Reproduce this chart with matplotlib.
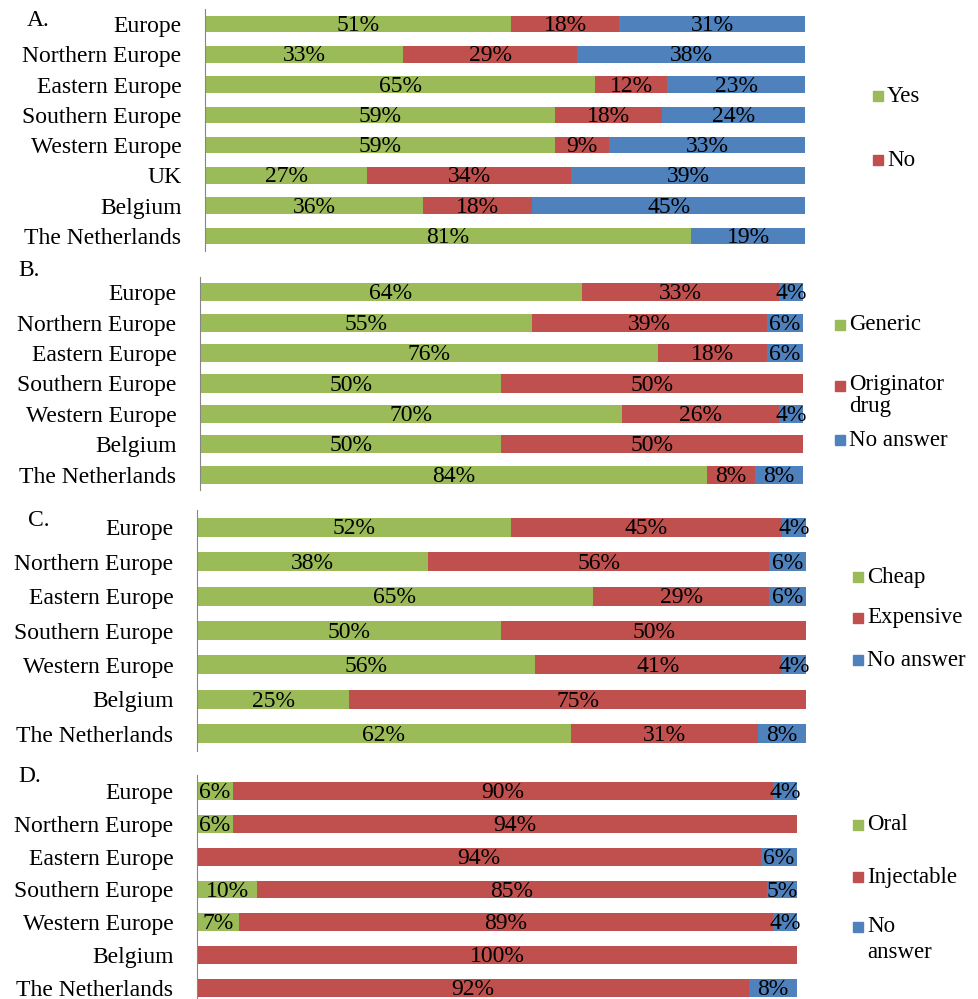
import matplotlib
matplotlib.use('Agg')
import matplotlib.pyplot as plt
import matplotlib.patches as mpatches
import numpy as np

plt.rcParams['font.family'] = ['Liberation Serif', 'DejaVu Serif']

#colour scheme (excel 2007 defaults)
green = '#9BBB59'
red = '#C0504D'
blue = '#4F81BD'

# panel A - data
cats_A = ['Europe', 'Northern Europe', 'Eastern Europe', 'Southern Europe',
          'Western Europe', 'UK', 'Belgium', 'The Netherlands']
yes_A = [51, 33, 65, 59, 59, 27, 36, 81]
no_A = [18, 29, 12, 18, 9, 34, 18, 0]
na_A = [31, 38, 23, 24, 33, 39, 45, 19]

cats = ['Europe', 'Northern Europe', 'Eastern Europe', 'Southern Europe',
        'Western Europe', 'Belgium', 'The Netherlands']

# panel B
generic_B = [64, 55, 76, 50, 70, 50, 84]
orig_B = [33, 39, 18, 50, 26, 50, 8]
na_B = [4, 6, 6, 0, 4, 0, 8]

# panel C
cheap_C = [52, 38, 65, 50, 56, 25, 62]
exp_C = [45, 56, 29, 50, 41, 75, 31]
na_C = [4, 6, 6, 0, 4, 0, 8]

# panel D
oral_D = [6, 6, 0, 10, 7, 0, 0]
inj_D = [90, 94, 94, 85, 89, 100, 92]
na_D = [4, 0, 6, 5, 4, 0, 8]

W, H = 979, 999
fig = plt.figure(figsize=(W/100, H/100), dpi=100)

def px_axes(left, top, width, bottom):
    return fig.add_axes([left/W, 1-bottom/H, width/W, (bottom-top)/H])

def draw_panel(ax, labels, series, height):
    y = np.arange(len(labels))
    # 100% stacked: widths are shares of the row total, labels keep the rounded values
    total = np.sum([np.array(v, dtype=float) for v, c in series], axis=0)
    left = np.zeros(len(labels))
    for vals, col in series:
        vals = np.array(vals, dtype=float)
        w = 100.0*vals/total
        ax.barh(y, w, left=left, color=col, height=height, clip_on=False,
                edgecolor='none')
        for yi, l, wi, v in zip(y, left, w, vals):
            if v > 0:
                ax.text(l + wi/2, yi + 0.05, '%d%%' % v, ha='center', va='center',
                        fontsize=17, clip_on=False)
        left = left + w
    ax.set_xlim(0, 100)
    ax.set_ylim(len(labels) - 0.5, -0.5)
    ax.set_yticks(y)
    ax.set_yticklabels(labels, fontsize=17)
    ax.tick_params(length=0, pad=17)
    ax.set_xticks([])
    for s in ['top', 'right', 'bottom']:
        ax.spines[s].set_visible(False)
    ax.spines['left'].set_color('#868686')
    ax.patch.set_alpha(0)

def legend_item(x, y, col, text, fs=16.5):
    fig.patches.append(mpatches.Rectangle(((x)/W, 1-(y+5)/H), 10/W, 10/H,
                                          color=col, transform=fig.transFigure))
    fig.text((x+14)/W, 1-y/H, text, fontsize=fs, va='center', ha='left',
             linespacing=1.1)

axA = px_axes(205, 9, 600, 251)
draw_panel(axA, cats_A, [(yes_A, green), (no_A, red), (na_A, blue)], 0.55)
axB = px_axes(200, 277, 603, 490)
draw_panel(axB, cats, [(generic_B, green), (orig_B, red), (na_B, blue)], 0.6)
axC = px_axes(197, 510, 609, 751)
draw_panel(axC, cats, [(cheap_C, green), (exp_C, red), (na_C, blue)], 0.55)
axD = px_axes(197, 775, 600, 1004)
draw_panel(axD, cats, [(oral_D, green), (inj_D, red), (na_D, blue)], 0.55)

# panel letters
fig.text(27/W, 1-20/H, 'A.', fontsize=17, va='center')
fig.text(18/W, 1-270/H, 'B.', fontsize=17, va='center')
fig.text(28/W, 1-521/H, 'C.', fontsize=17, va='center')
fig.text(18/W, 1-776/H, 'D.', fontsize=17, va='center')

# legends
legend_item(873, 96, green, 'Yes')
legend_item(873, 160, red, 'No')

legend_item(835, 325, green, 'Generic')
fig.text((835+14)/W, 1-374/H, 'Originator\ndrug', fontsize=16.5, va='top',
         ha='left', linespacing=1.05)
fig.patches.append(mpatches.Rectangle((835/W, 1-(386+5)/H), 10/W, 10/H,
                                      color=red, transform=fig.transFigure))
legend_item(835, 440, blue, 'No answer')

legend_item(853, 577, green, 'Cheap')
legend_item(853, 618, red, 'Expensive')
legend_item(853, 660, blue, 'No answer')

legend_item(853, 825, green, 'Oral')
legend_item(853, 877, red, 'Injectable')
legend_item(853, 927, blue, 'No')
fig.text((853+14)/W, 1-953/H, 'answer', fontsize=16.5, va='center', ha='left')

plt.savefig('out.png', dpi=100)
